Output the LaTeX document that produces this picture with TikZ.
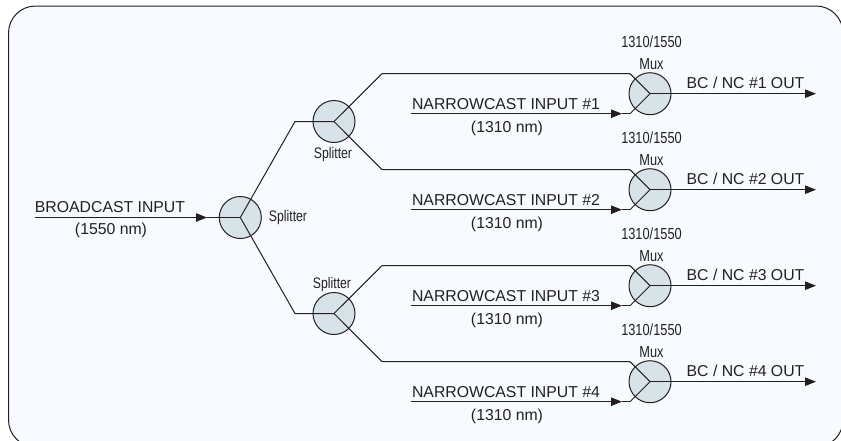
\documentclass[tikz,border=0pt]{standalone}
\usepackage{fontspec}
\setmainfont{Liberation Sans}
\newfontfamily\narrowface[FakeStretch=0.8]{Liberation Sans}
\usetikzlibrary{arrows.meta}
\definecolor{panelfill}{RGB}{247,251,255}
\definecolor{discfill}{RGB}{216,226,233}
\definecolor{inkc}{RGB}{35,31,32}
\tikzset{x=1pt,y=-1pt,
 disc/.style={circle,draw=inkc,fill=discfill,line width=1pt,minimum size=42pt,inner sep=0pt},
 wire/.style={draw=inkc,line width=1pt},
 arrowed/.style={wire,-{Triangle[length=11pt,width=8.5pt]}},
 lbl/.style={font=\fontsize{15.8pt}{18pt}\selectfont,text=inkc,inner sep=0pt,anchor=base},
 small/.style={font=\narrowface\fontsize{16pt}{18pt}\selectfont,text=inkc,inner sep=0pt,anchor=base},
 splab/.style={font=\narrowface\fontsize{15.3pt}{18pt}\selectfont,text=inkc,inner sep=0pt,anchor=base}}
\newcommand{\muxunit}[2]{%
 \node[disc] (m#2) at (650,#1) {};
 \coordinate (mc#2) at (650,#1);
 \coordinate (mt#2) at (630,#1-20);
 \coordinate (mb#2) at (630,#1+20);
 \coordinate (ns#2) at (411,#1+20);
 \coordinate (na#2) at (622,#1+20);
 \coordinate (oe#2) at (816,#1);
 \path[wire] (mt#2) -- (mc#2) -- (mb#2);
 \path[arrowed] (mc#2) -- (oe#2);
 \path[arrowed] (ns#2) -- (na#2);
 \path[wire] (na#2) -- (mb#2);
 \node[lbl] (nt#2) at (506,#1+15.5) {NARROWCAST INPUT \##2};
 \node[lbl] (nw#2) at (507,#1+38.5) {(1310 nm)};
 \node[lbl] (ot#2) at (745.5,#1-5.5) {BC / NC \##2 OUT};
 \node[small] (mx#2) at (651.5,#1-24.5) {Mux};
 \node[small] (wv#2) at (651.5,#1-46.5) {1310/1550};
}
\begin{document}
\begin{tikzpicture}
\useasboundingbox (0,0) rectangle (841,440);
\clip (0,0) rectangle (841,440);
\draw[draw=inkc,fill=panelfill,line width=1pt,rounded corners=27pt] (8.5,6) rectangle (843,447);
\node[disc] (s0) at (240.3,217.5) {};
\node[disc] (s1) at (334,121.5) {};
\node[disc] (s2) at (334,313.5) {};
\muxunit{93.7}{1}
\muxunit{189.7}{2}
\muxunit{285.7}{3}
\muxunit{381.7}{4}
\coordinate (c0) at (240.3,217.5);
\coordinate (c1) at (334,121.5);
\coordinate (c2) at (334,313.5);
\coordinate (k1) at (295,121.5);
\coordinate (k2) at (295,313.5);
\coordinate (t1) at (382,73.7);
\coordinate (t2) at (382,169.7);
\coordinate (t3) at (382,265.7);
\coordinate (t4) at (382,361.7);
\coordinate (in) at (35,217.5);
\coordinate (ina) at (207,217.5);
\path[arrowed] (in) -- (ina);
\path[wire] (ina) -- (c0);
\path[wire] (c0) -- (k1) -- (c1);
\path[wire] (c0) -- (k2) -- (c2);
\path[wire] (c1) -- (t1) -- (mt1);
\path[wire] (c1) -- (t2) -- (mt2);
\path[wire] (c2) -- (t3) -- (mt3);
\path[wire] (c2) -- (t4) -- (mt4);
\node[lbl] (bt) at (110,212) {BROADCAST INPUT};
\node[lbl] (bw) at (111,234) {(1550 nm)};
\node[splab] (sp0) at (288,221.5) {Splitter};
\node[splab] (sp1) at (333,158) {Splitter};
\node[splab] (sp2) at (332,288) {Splitter};
\end{tikzpicture}
\end{document}
